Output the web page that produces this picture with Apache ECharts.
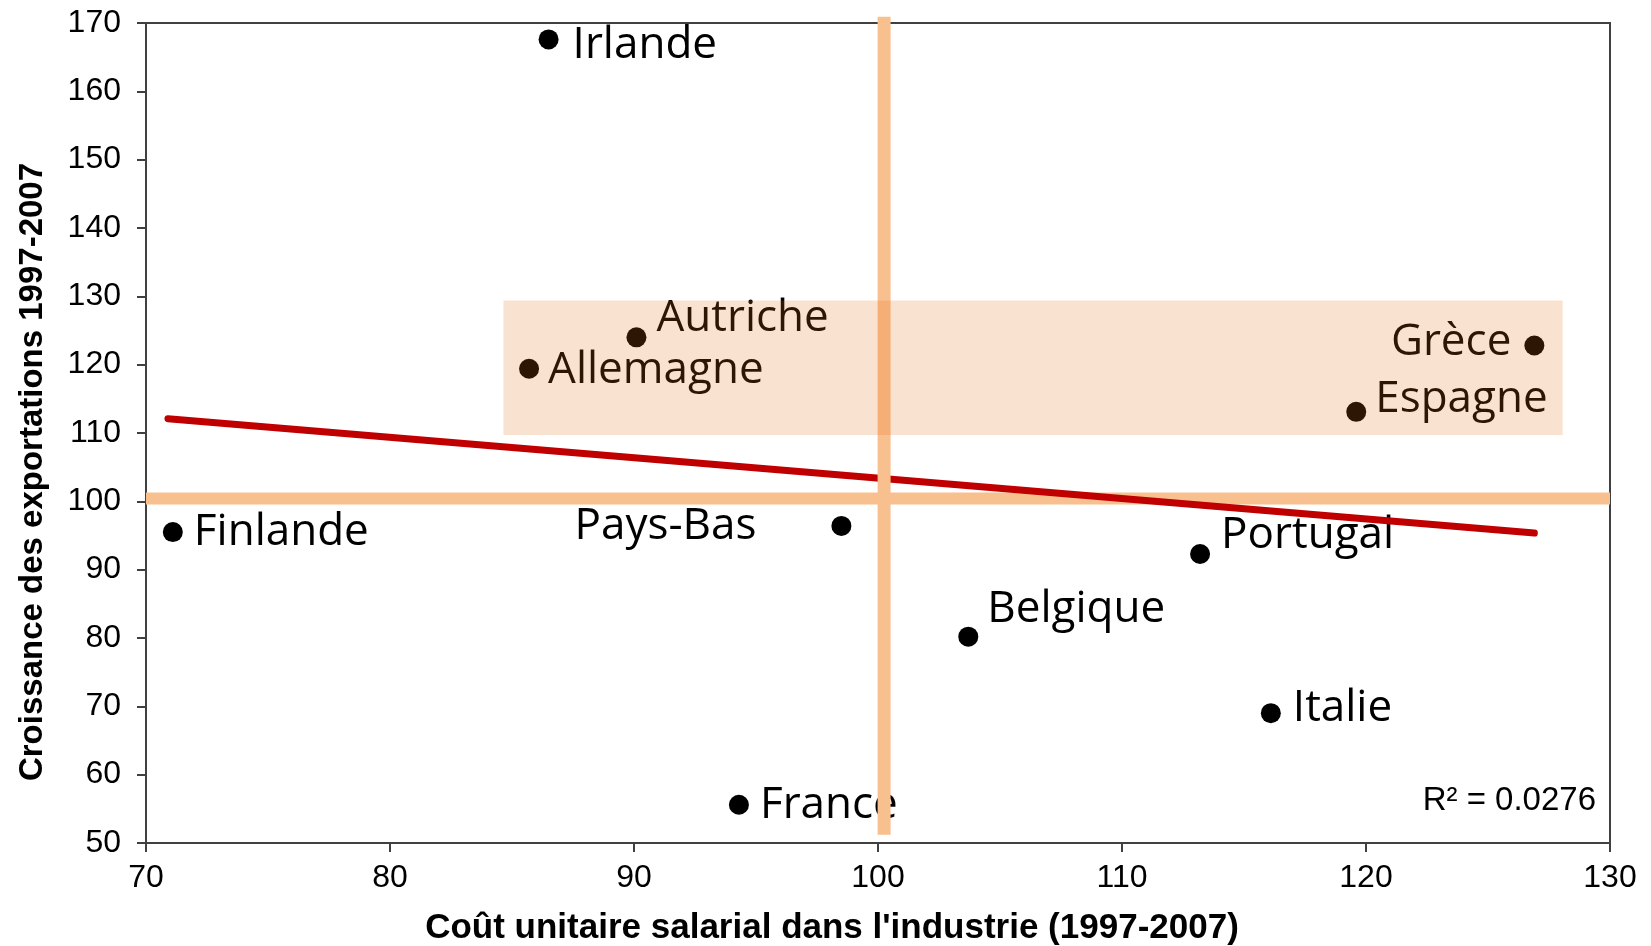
<!DOCTYPE html>
<html lang="fr">
<head>
    <meta charset="UTF-8">
    <title>Coût salarial et exportations</title>
    <script src="https://cdn.jsdelivr.net/npm/echarts@6/dist/echarts.min.js"></script>
    <style>
        html, body { margin: 0; padding: 0; background: #fff; }
        #main { width: 1651px; height: 946px; }
    </style>
</head>
<body>
    <div id="main"></div>
    <script>
        // données
        var countries = ['Irlande', 'Autriche', 'Allemagne', 'Grèce', 'Espagne', 'Finlande', 'Pays-Bas', 'Portugal', 'Belgique', 'Italie', 'France'];
        var coutSalarial = [86.5, 90.1, 85.7, 126.9, 119.6, 71.1, 98.5, 113.2, 103.7, 116.1, 94.3];
        var croissanceExport = [167.6, 124.0, 119.4, 122.8, 113.1, 95.5, 96.4, 92.3, 80.2, 69.0, 55.6];

        // droite de tendance (extrémités)
        var trendX = [70.9, 126.9];
        var trendY = [112.1, 95.35];
        var r2Text = 'R² = 0.0276';

        // repères à 100 et zone surlignée
        var refX = 100.25;
        var refXRange = [51.2, 170.9];
        var refY = 100.4;
        var refYRange = [70, 130];
        var bandX = [84.65, 128.06];
        var bandY = [109.7, 129.4];

        var xMin = 70, xMax = 130, xStep = 10;
        var yMin = 50, yMax = 170, yStep = 10;

        // placement des étiquettes : côté, écart au centre du point, décalage vertical
        var labelLayout = {
            'Irlande': ['right', 27, 6],
            'Autriche': ['right', 23, -19],
            'Allemagne': ['right', 22, 2],
            'Grèce': ['left', 26, -3],
            'Espagne': ['right', 22, -12],
            'Finlande': ['right', 24, 0],
            'Pays-Bas': ['left', 88, 1],
            'Portugal': ['right', 24, -18],
            'Belgique': ['right', 22, -27],
            'Italie': ['right', 25, -5],
            'France': ['right', 24, 1]
        };

        var DOT = 20;
        var pointData = countries.map(function (name, i) {
            var lay = labelLayout[name];
            return {
                name: name,
                value: [coutSalarial[i], croissanceExport[i]],
                label: {
                    position: lay[0],
                    distance: lay[1] - DOT / 2 - 3,
                    offset: [0, lay[2]]
                }
            };
        });

        var axisFont = '"Liberation Sans", Arial, sans-serif';

        var chart = echarts.init(document.getElementById('main'));
        var option = {
            animation: false,
            grid: {
                left: 146,
                right: 41,
                top: 23,
                bottom: 103,
                outerBoundsMode: 'none',
                show: true,
                borderColor: '#404040',
                borderWidth: 2
            },
            xAxis: {
                type: 'value',
                min: xMin,
                max: xMax,
                interval: xStep,
                name: "Coût unitaire salarial dans l'industrie (1997-2007)",
                nameLocation: 'middle',
                nameGap: 68,
                nameTextStyle: {
                    fontFamily: axisFont,
                    fontWeight: 'bold',
                    fontSize: 35,
                    color: '#000',
                    padding: [0, 92, 0, 0]
                },
                axisLine: { show: true, lineStyle: { color: '#404040', width: 2 } },
                axisTick: { show: true, length: 9, lineStyle: { color: '#404040', width: 2 } },
                axisLabel: { fontFamily: axisFont, fontSize: 32, color: '#000', margin: 19 },
                splitLine: { show: false }
            },
            yAxis: {
                type: 'value',
                min: yMin,
                max: yMax,
                interval: yStep,
                name: 'Croissance des exportations 1997-2007',
                nameLocation: 'middle',
                nameGap: 97,
                nameRotate: 90,
                nameTextStyle: {
                    fontFamily: axisFont,
                    fontWeight: 'bold',
                    fontSize: 33,
                    color: '#000',
                    padding: [0, 78, 0, 0]
                },
                axisLine: { show: true, lineStyle: { color: '#404040', width: 2 } },
                axisTick: { show: true, length: 9, lineStyle: { color: '#404040', width: 2 } },
                axisLabel: { fontFamily: axisFont, fontSize: 32, color: '#000', margin: 25 },
                splitLine: { show: false }
            },
            graphic: [{
                type: 'text',
                right: 55,
                top: 784,
                style: { text: r2Text, font: '33px "Liberation Sans", Arial, sans-serif', fill: '#000' }
            }],
            series: [
                {
                    name: 'repère horizontal',
                    type: 'line',
                    data: [[refYRange[0], refY], [refYRange[1], refY]],
                    symbol: 'none',
                    silent: true,
                    clip: false,
                    z: 1,
                    lineStyle: { color: '#F9C08F', width: 12, cap: 'butt' }
                },
                {
                    name: 'pays',
                    type: 'scatter',
                    data: pointData,
                    symbol: 'circle',
                    symbolSize: DOT,
                    z: 2,
                    itemStyle: { color: '#000', opacity: 1 },
                    label: {
                        show: true,
                        formatter: '{b}',
                        fontFamily: '"Open Sans", "DejaVu Sans", sans-serif',
                        fontSize: 44,
                        color: '#000'
                    }
                },
                {
                    name: 'tendance',
                    type: 'line',
                    data: [[trendX[0], trendY[0]], [trendX[1], trendY[1]]],
                    symbol: 'none',
                    silent: true,
                    z: 3,
                    lineStyle: { color: '#C00000', width: 7, cap: 'round' }
                },
                {
                    name: 'repère vertical',
                    type: 'line',
                    data: [[refX, refXRange[0]], [refX, refXRange[1]]],
                    symbol: 'none',
                    silent: true,
                    clip: false,
                    z: 4,
                    lineStyle: { color: '#F9C08F', width: 13, cap: 'butt' }
                },
                {
                    name: 'zone',
                    type: 'custom',
                    silent: true,
                    z: 5,
                    data: [[bandX[0], bandY[0], bandX[1], bandY[1]]],
                    encode: { x: [0, 2], y: [1, 3] },
                    renderItem: function (params, api) {
                        var p1 = api.coord([api.value(0), api.value(3)]);
                        var p2 = api.coord([api.value(2), api.value(1)]);
                        return {
                            type: 'rect',
                            shape: { x: p1[0], y: p1[1], width: p2[0] - p1[0], height: p2[1] - p1[1] },
                            style: { fill: 'rgba(230,110,20,0.2)' }
                        };
                    }
                }
            ]
        };
        chart.setOption(option);
    </script>
</body>
</html>
